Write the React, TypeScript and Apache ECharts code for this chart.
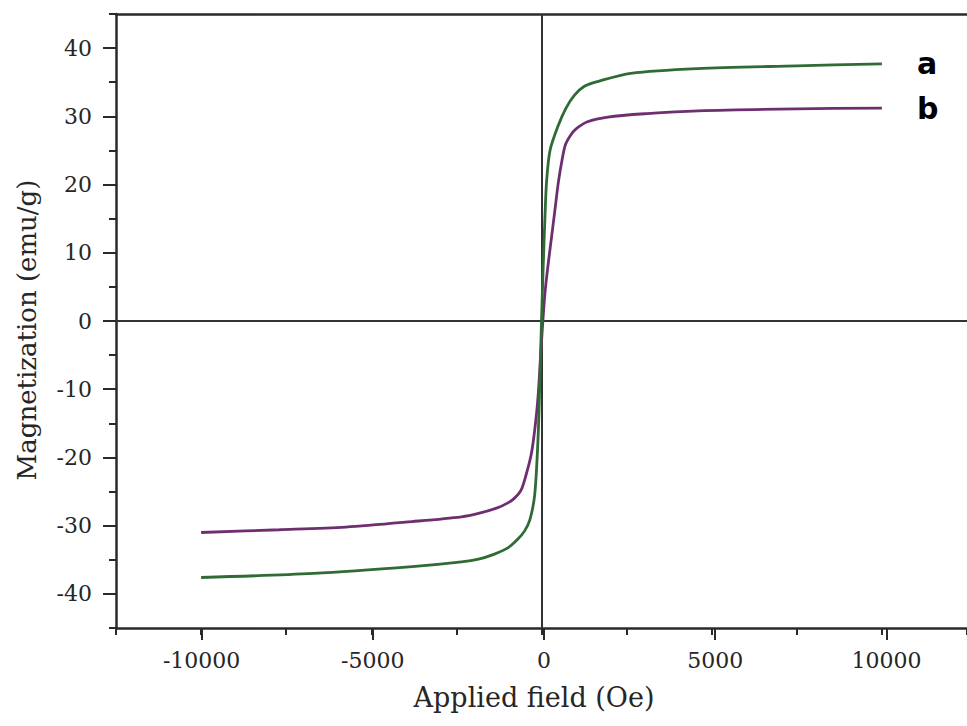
import React, { useEffect, useRef } from "react";
import * as echarts from "echarts";

// Sample a (green)
const fieldA = [-10000, -6700, -3800, -2350, -1850, -1400, -1000, -700, -500, -345, -200, -100, -50, 0, 50, 100, 150, 250, 480, 720, 970, 1260, 1650, 2620, 4570, 7500, 10000];
const magA = [-37.6, -37.0, -36.0, -35.3, -34.9, -34.2, -33.3, -32.0, -30.8, -29.2, -25.5, -17.0, -9.0, 0.0, 8.0, 15.0, 20.5, 25.0, 28.5, 31.2, 33.1, 34.4, 35.1, 36.3, 37.0, 37.4, 37.7];

// Sample b (purple)
const fieldB = [-10000, -7700, -5750, -3800, -2350, -1850, -1300, -1000, -800, -600, -450, -300, -200, -100, 0, 100, 200, 300, 400, 500, 600, 700, 850, 1000, 1350, 1950, 3100, 4600, 7500, 10000];
const magB = [-31.0, -30.6, -30.2, -29.4, -28.7, -28.2, -27.4, -26.7, -26.0, -24.8, -22.5, -19.5, -16.0, -11.0, -3.0, 4.0, 8.5, 12.5, 16.5, 20.5, 23.5, 25.8, 27.2, 28.1, 29.2, 29.9, 30.4, 30.8, 31.1, 31.2];

const seriesNames = ["a", "b"];
const xTitle = "Applied field (Oe)";
const yTitle = "Magnetization (emu/g)";

const AXIS_COLOR = "#2a2a2a";
const SERIF = "DejaVu Serif";

export default function App() {
  const ref = useRef<HTMLDivElement>(null);
  useEffect(() => {
    if (!ref.current) return;
    const chart = echarts.init(ref.current, undefined, { renderer: "svg" });

    // main plot frame
    const G = { left: 116, top: 14, right: -5, bottom: 98 };
    const W = 967 - G.left - G.right;
    const H = 726 - G.top - G.bottom;
    const X0 = -12500, X1 = 12500, Y0 = -45, Y1 = 45;
    const pxPerX = W / (X1 - X0);
    const pxPerY = H / (Y1 - Y0);
    // major-tick frames (same scale, covering only the labelled range)
    const XM0 = -10000, XM1 = 10000, YM0 = -40, YM1 = 40;
    const gridXMajor = {
      left: G.left + (XM0 - X0) * pxPerX,
      right: G.right + (X1 - XM1) * pxPerX,
      top: G.top,
      bottom: G.bottom,
    };
    const gridYMajor = {
      left: G.left,
      right: G.right,
      top: G.top + (Y1 - YM1) * pxPerY,
      bottom: G.bottom + (YM0 - Y0) * pxPerY,
    };

    const hiddenAxis = (gridIndex: number) => ({
      type: "value",
      gridIndex,
      show: false,
      min: 0,
      max: 1,
    });

    const labelStyle = {
      fontFamily: SERIF,
      fontSize: 22,
      color: "#262626",
      formatter: (v: number) => String(v),
      showMinLabel: true,
      showMaxLabel: true,
    };

    const option: any = {
      animation: false,
      backgroundColor: "#ffffff",
      grid: [G, gridXMajor, gridYMajor],
      xAxis: [
        {
          type: "value",
          gridIndex: 0,
          position: "bottom",
          min: X0,
          max: X1,
          interval: 2500,
          splitLine: { show: false },
          axisLine: { show: true, onZero: false, lineStyle: { color: AXIS_COLOR, width: 2.5 } },
          axisTick: { show: true, length: 7, lineStyle: { color: AXIS_COLOR, width: 2 } },
          axisLabel: { show: false },
        },
        {
          type: "value",
          gridIndex: 0,
          position: "top",
          min: X0,
          max: X1,
          interval: 2500,
          splitLine: { show: false },
          axisLine: { show: true, onZero: false, lineStyle: { color: AXIS_COLOR, width: 2.5 } },
          axisTick: { show: false },
          axisLabel: { show: false },
        },
        {
          type: "value",
          gridIndex: 1,
          position: "bottom",
          min: XM0,
          max: XM1,
          interval: 5000,
          splitLine: { show: false },
          axisLine: { show: false, onZero: false },
          axisTick: { show: true, length: 12, lineStyle: { color: AXIS_COLOR, width: 2 } },
          axisLabel: { show: true, margin: 21, ...labelStyle },
        },
        hiddenAxis(2),
      ],
      yAxis: [
        {
          type: "value",
          gridIndex: 0,
          position: "left",
          min: Y0,
          max: Y1,
          interval: 5,
          splitLine: { show: false },
          axisLine: { show: true, onZero: false, lineStyle: { color: AXIS_COLOR, width: 2.5 } },
          axisTick: { show: true, length: 7, lineStyle: { color: AXIS_COLOR, width: 2 } },
          axisLabel: { show: false },
        },
        hiddenAxis(1),
        {
          type: "value",
          gridIndex: 2,
          position: "left",
          min: YM0,
          max: YM1,
          interval: 10,
          splitLine: { show: false },
          axisLine: { show: false, onZero: false },
          axisTick: { show: true, length: 13, lineStyle: { color: AXIS_COLOR, width: 2 } },
          axisLabel: { show: true, margin: 24, ...labelStyle },
        },
      ],
      series: [
        {
          name: seriesNames[0],
          type: "line",
          xAxisIndex: 0,
          yAxisIndex: 0,
          data: fieldA.map((x, i) => [x, magA[i]]),
          showSymbol: false,
          symbol: "none",
          smooth: 0.3,
          lineStyle: { color: "#2f6b35", width: 2.8 },
          z: 3,
          endLabel: {
            show: true,
            formatter: seriesNames[0],
            distance: 35,
            fontFamily: "DejaVu Sans",
            fontWeight: "bold",
            fontSize: 30,
            color: "#000000",
          },
          markLine: {
            silent: true,
            symbol: ["none", "none"],
            label: { show: false },
            lineStyle: { color: "#333333", width: 2, type: "solid" },
            data: [{ xAxis: 0 }, { yAxis: 0 }],
            z: 1,
          },
        },
        {
          name: seriesNames[1],
          type: "line",
          xAxisIndex: 0,
          yAxisIndex: 0,
          data: fieldB.map((x, i) => [x, magB[i]]),
          showSymbol: false,
          symbol: "none",
          smooth: 0.3,
          lineStyle: { color: "#6e2f70", width: 2.8 },
          z: 2,
          endLabel: {
            show: true,
            formatter: seriesNames[1],
            distance: 35,
            fontFamily: "DejaVu Sans",
            fontWeight: "bold",
            fontSize: 30,
            color: "#000000",
          },
        },
      ],
      graphic: [
        {
          type: "text",
          x: 534,
          y: 697,
          style: {
            text: xTitle,
            fontFamily: SERIF,
            fontSize: 27,
            fill: "#262626",
            align: "center",
            verticalAlign: "middle",
          },
        },
        {
          type: "text",
          x: 27,
          y: 330,
          rotation: Math.PI / 2,
          style: {
            text: yTitle,
            fontFamily: SERIF,
            fontSize: 26,
            fill: "#262626",
            align: "center",
            verticalAlign: "middle",
          },
        },
      ],
    };
    chart.setOption(option);
    return () => chart.dispose();
  }, []);
  return (
    <div
      ref={ref}
      style={{ position: "absolute", left: 0, top: 0, width: 967, height: 726, background: "#fff" }}
    />
  );
}
